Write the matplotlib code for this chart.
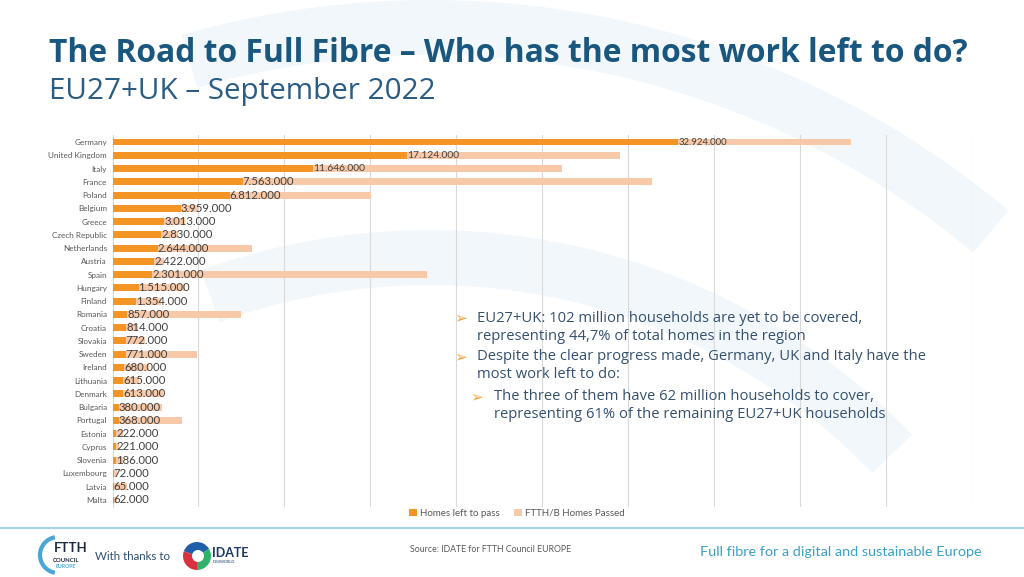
import matplotlib
matplotlib.use("Agg")
import matplotlib.pyplot as plt
import matplotlib.patches as mpatches

plt.rcParams['font.family'] = ['Lato', 'DejaVu Sans']

# data (households)
countries = ["Germany", "United Kingdom", "Italy", "France", "Poland", "Belgium",
             "Greece", "Czech Republic", "Netherlands", "Austria", "Spain", "Hungary",
             "Finland", "Romania", "Croatia", "Slovakia", "Sweden", "Ireland",
             "Lithuania", "Denmark", "Bulgaria", "Portugal", "Estonia", "Cyprus",
             "Slovenia", "Luxembourg", "Latvia", "Malta"]
homes_left = [32924000, 17124000, 11646000, 7563000, 6812000, 3959000,
              3013000, 2830000, 2644000, 2422000, 2301000, 1515000,
              1354000, 857000, 814000, 772000, 771000, 680000,
              615000, 613000, 380000, 368000, 222000, 221000,
              186000, 72000, 65000, 62000]
homes_passed = [10050000, 12400000, 14500000, 23800000, 8200000, 1000000,
                1200000, 1000000, 5500000, 600000, 15970000, 2700000,
                1450000, 6600000, 650000, 1100000, 4160000, 1440000,
                900000, 2300000, 2500000, 3650000, 400000, 150000,
                450000, 170000, 750000, 200000]

ORANGE = '#f39425'
PEACH = '#f8c9a8'
W, H = 1024, 577

def px(x, y):
    return x / W, 1 - y / H

fig = plt.figure(figsize=(10.24, 5.77), dpi=100)
fig.patch.set_facecolor('white')
renderer = fig.canvas.get_renderer()

# scale a text so it spans the given width in pixels
def fit(t, width):
    w = t.get_window_extent(renderer).width
    t.set_fontsize(t.get_fontsize() * width / w)
    return t

# faint watermark arcs in the background
bg = fig.add_axes([0, 0, 1, 1], zorder=-5)
bg.set_xlim(0, W)
bg.set_ylim(H, 0)
bg.axis('off')
bg.add_patch(mpatches.Wedge((430, 900), 900, 254, 310, width=55, color='#f2f7fb', lw=0))
bg.add_patch(mpatches.Wedge((430, 900), 670, 250, 316, width=55, color='#f2f7fb', lw=0))
# footer rule
bg.plot([0, W], [528, 528], color='#a9d2e3', lw=1.6)

# bar chart
ax = fig.add_axes([112.5 / W, 1 - 506.6 / H, (972 - 112.5) / W, (506.6 - 135.4) / H])
ax.patch.set_alpha(0)
y = list(range(len(countries)))
ax.barh(y, homes_left, height=0.52, color=ORANGE, label='Homes left to pass', zorder=3)
ax.barh(y, homes_passed, left=homes_left, height=0.52, color=PEACH,
        label='FTTH/B Homes Passed', zorder=3)
for i, v in enumerate(homes_left):
    lab = f"{v:,}".replace(",", ".")
    fs = 6.8 if i == 0 else (7.4 if i < 3 else 8.2)
    ax.text(v, i, lab, ha='left', va='center', fontsize=fs, color='#404040', zorder=4)

ax.set_xlim(0, 50000000)
ax.set_ylim(len(countries) - 0.5, -0.5)
ax.set_xticks(range(0, 50000001, 5000000))
ax.set_xticklabels([])
ax.tick_params(axis='x', length=0)
ax.set_yticks(y)
ax.set_yticklabels(countries, fontsize=5.9, color='#595959')
ax.tick_params(axis='y', length=0, pad=4)
ax.grid(axis='x', color='#d9d9d9', lw=0.8, zorder=0)
for s in ['top', 'right', 'bottom']:
    ax.spines[s].set_visible(False)
ax.spines['left'].set_color('#d9d9d9')
ax.spines['left'].set_linewidth(0.8)

leg = ax.legend(loc='center', bbox_to_anchor=((517 - 112.5) / 859.5, -0.018), ncol=2,
                frameon=False, fontsize=7, handlelength=0.8, handleheight=0.8,
                columnspacing=1.4, handletextpad=0.4)
for t in leg.get_texts():
    t.set_color('#595959')

# titles
title = fig.text(*px(49, 53), "The Road to Full Fibre – Who has the most work left to do?",
                 fontsize=20, fontweight='bold', color='#19577f', va='center', ha='left',
                 family=['Open Sans', 'DejaVu Sans'])
fit(title, 918)
sub = fig.text(*px(49, 91), "EU27+UK – September 2022", fontsize=19, color='#2b5c85',
               va='center', ha='left', family=['Open Sans', 'DejaVu Sans'])
fit(sub, 388)

# commentary bullets
txt = '#34506e'
arrow = '#f5a243'
lines = [
    (477, 318, "EU27+UK: 102 million households are yet to be covered,"),
    (477, 336, "representing 44,7% of total homes in the region"),
    (477, 357, "Despite the clear progress made, Germany, UK and Italy have the"),
    (477, 375, "most work left to do:"),
    (494, 397, "The three of them have 62 million households to cover,"),
    (494, 415, "representing 61% of the remaining EU27+UK households"),
]
tlist = [fig.text(*px(x0, y0), s, fontsize=10.5, color=txt, va='center',
                  family=['Open Sans', 'DejaVu Sans']) for x0, y0, s in lines]
w0 = tlist[0].get_window_extent(renderer).width
for t in tlist:
    t.set_fontsize(10.5 * 386 / w0)
for x0, y0 in [(454, 318), (454, 357), (470, 397)]:
    fig.text(*px(x0, y0), "➢", fontsize=11, color=arrow, va='center',
             family=['DejaVu Sans'])

# footer: FTTH Council logo
bg.add_patch(mpatches.Arc((58, 555), 36, 36, theta1=100, theta2=260, color='#4aa6d6', lw=3))
fig.text(*px(54, 548), "FTTH", fontsize=9.5, fontweight='bold', color='#1e2b3c', va='center')
fig.text(*px(53, 560), "COUNCIL", fontsize=4.3, fontweight='bold', color='#1e2b3c', va='center')
fig.text(*px(56, 567), "EUROPE", fontsize=3.8, fontweight='bold', color='#4aa6d6', va='center')
fig.text(*px(95, 556), "With thanks to", fontsize=8.3, color='#2f4f6f', va='center')

# IDATE logo
cx, cy = 197, 556
bg.add_patch(mpatches.Wedge((cx, cy), 14, 200, 330, color='#1f5fa8', lw=0))
bg.add_patch(mpatches.Wedge((cx, cy), 14, 330, 90, color='#2fb36b', lw=0))
bg.add_patch(mpatches.Wedge((cx, cy), 14, 90, 200, color='#d9323f', lw=0))
bg.add_patch(mpatches.Circle((cx + 1, cy), 6, color='white', lw=0))
fig.text(*px(212, 553), "IDATE", fontsize=9, fontweight='bold', color='#1b3a6b', va='center')
fig.text(*px(213, 562), "DIGIWORLD", fontsize=2.8, color='#1b3a6b', va='center')

fig.text(*px(410, 550), "Source: IDATE for FTTH Council EUROPE", fontsize=6.3, color='#595959',
         va='center')
fig.text(*px(700, 552), "Full fibre for a digital and sustainable Europe", fontsize=10.4,
         color='#3aa0c8', va='center')

fig.savefig("out.png", dpi=100, facecolor='white')
